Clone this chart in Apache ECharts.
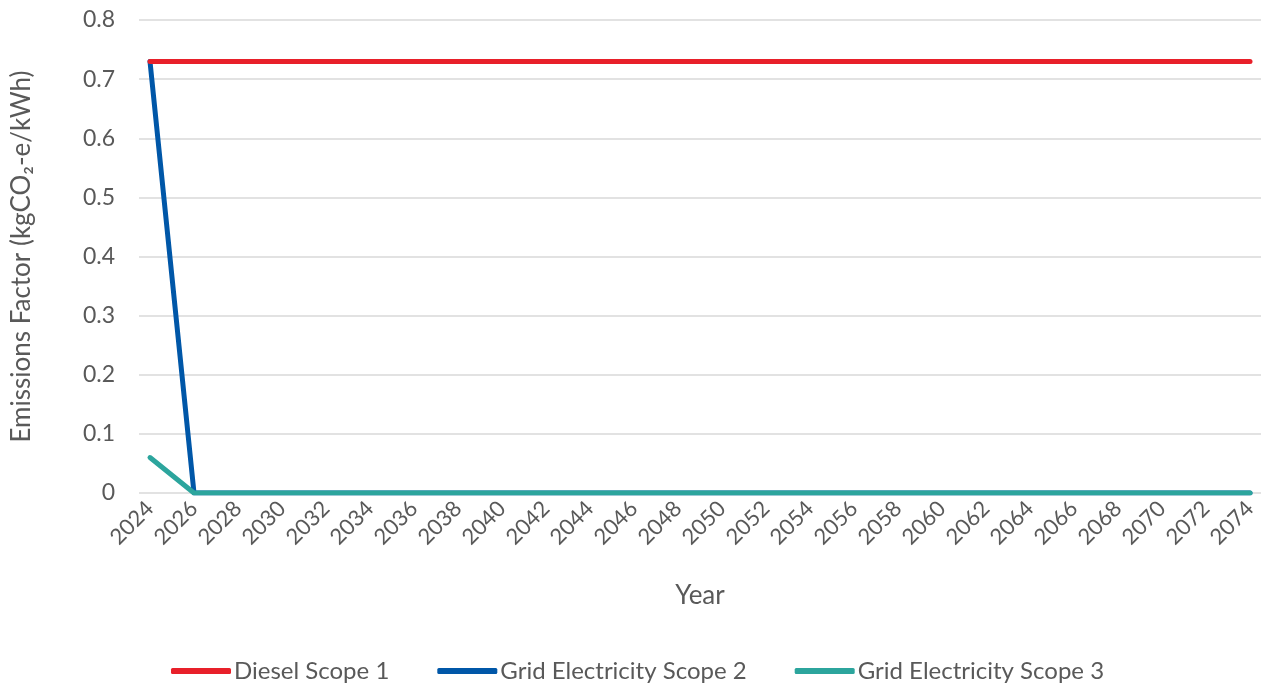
<!DOCTYPE html>
<html>
<head>
<meta charset="utf-8">
<script src="https://cdn.jsdelivr.net/npm/echarts@6/dist/echarts.min.js"></script>
<style>
  html, body { margin: 0; padding: 0; background: #ffffff; }
  #chart { width: 1261px; height: 688px; }
</style>
</head>
<body>
<div id="chart"></div>
<script>
// Years 2024–2074
const years = [];
for (let y = 2024; y <= 2074; y++) years.push(String(y));

// Emissions factors (kgCO2-e/kWh)
const dieselScope1 = [
  0.73, 0.73, 0.73, 0.73, 0.73, 0.73, 0.73, 0.73, 0.73, 0.73,
  0.73, 0.73, 0.73, 0.73, 0.73, 0.73, 0.73, 0.73, 0.73, 0.73,
  0.73, 0.73, 0.73, 0.73, 0.73, 0.73, 0.73, 0.73, 0.73, 0.73,
  0.73, 0.73, 0.73, 0.73, 0.73, 0.73, 0.73, 0.73, 0.73, 0.73,
  0.73, 0.73, 0.73, 0.73, 0.73, 0.73, 0.73, 0.73, 0.73, 0.73,
  0.73
];
const gridScope2 = [
  0.73, 0.365, 0, 0, 0, 0, 0, 0, 0, 0,
  0, 0, 0, 0, 0, 0, 0, 0, 0, 0,
  0, 0, 0, 0, 0, 0, 0, 0, 0, 0,
  0, 0, 0, 0, 0, 0, 0, 0, 0, 0,
  0, 0, 0, 0, 0, 0, 0, 0, 0, 0,
  0
];
const gridScope3 = [
  0.06, 0.03, 0, 0, 0, 0, 0, 0, 0, 0,
  0, 0, 0, 0, 0, 0, 0, 0, 0, 0,
  0, 0, 0, 0, 0, 0, 0, 0, 0, 0,
  0, 0, 0, 0, 0, 0, 0, 0, 0, 0,
  0, 0, 0, 0, 0, 0, 0, 0, 0, 0,
  0
];

const seriesNames = ['Diesel Scope 1', 'Grid Electricity Scope 2', 'Grid Electricity Scope 3'];
const seriesColors = ['#E8202A', '#0057A8', '#2CA59D'];
const seriesData = [dieselScope1, gridScope2, gridScope3];

const FONT = 'Lato, "Open Sans", sans-serif';
const TEXT = '#595959';

const chart = echarts.init(document.getElementById('chart'), null, { renderer: 'canvas' });
chart.setOption({
  animation: false,
  backgroundColor: '#ffffff',
  grid: { left: 139, right: 0, top: 20, bottom: 195, containLabel: false },
  xAxis: {
    type: 'category',
    data: years,
    boundaryGap: true,
    name: 'Year',
    nameLocation: 'middle',
    nameGap: 90,
    nameTextStyle: { fontFamily: FONT, fontSize: 26, color: TEXT },
    axisLine: { show: false },
    axisTick: { show: false },
    axisLabel: {
      interval: 1,
      rotate: 45,
      margin: 12,
      fontFamily: FONT,
      fontSize: 22,
      color: TEXT
    },
    splitLine: { show: false }
  },
  yAxis: {
    type: 'value',
    min: 0,
    max: 0.8,
    interval: 0.1,
    name: 'Emissions Factor (kgCO₂-e/kWh)',
    nameLocation: 'middle',
    nameGap: 104,
    nameRotate: 90,
    nameTextStyle: { fontFamily: FONT, fontSize: 26, color: TEXT },
    axisLine: { show: false },
    axisTick: { show: false },
    axisLabel: {
      margin: 24,
      fontFamily: FONT,
      fontSize: 23,
      color: TEXT,
      formatter: v => (v === 0 ? '0' : String(Math.round(v * 10) / 10))
    },
    splitLine: { lineStyle: { color: '#d9d9d9', width: 1.5 } }
  },
  legend: {
    bottom: 0,
    left: 166,
    itemWidth: 60,
    itemHeight: 6,
    itemGap: 48,
    icon: 'roundRect',
    textStyle: { fontFamily: FONT, fontSize: 24, color: TEXT, padding: [0, 0, 0, -2] },
    data: seriesNames
  },
  series: seriesNames.map((name, i) => ({
    name,
    type: 'line',
    data: seriesData[i],
    symbol: 'none',
    smooth: false,
    z: i === 0 ? 4 : (i === 1 ? 3 : 5),
    itemStyle: { color: seriesColors[i] },
    lineStyle: { color: seriesColors[i], width: 5, cap: 'round', join: 'round' }
  }))
});
</script>
</body>
</html>
